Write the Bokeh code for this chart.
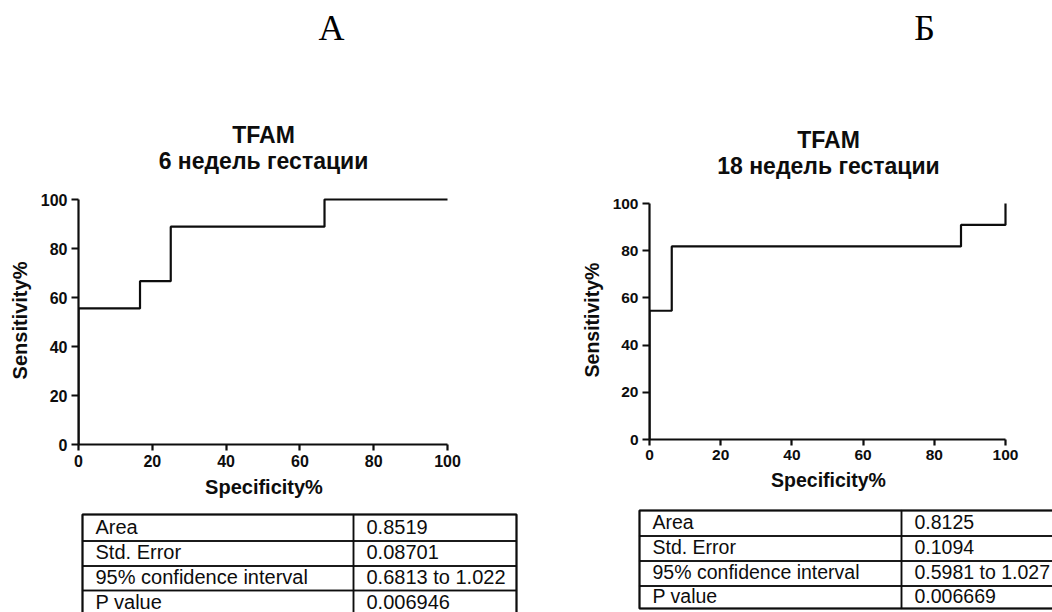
from bokeh.plotting import figure
from bokeh.layouts import row, column
from bokeh.models import Range1d, FixedTicker
from bokeh.core.properties import value
from bokeh.embed import file_html
from bokeh.resources import INLINE

# ---------------- data ----------------
panel_letters = ["А", "Б"]
gene = "TFAM"
subtitles = ["6 недель гестации", "18 недель гестации"]
x_label = "Specificity%"
y_label = "Sensitivity%"
axis_ticks = [0, 20, 40, 60, 80, 100]

spec_6 = [0, 0, 16.67, 16.67, 25.0, 25.0, 66.67, 66.67, 100]
sens_6 = [0, 55.56, 55.56, 66.67, 66.67, 88.89, 88.89, 100, 100]

spec_18 = [0, 0, 6.25, 6.25, 87.5, 87.5, 100, 100]
sens_18 = [0, 54.55, 54.55, 81.82, 81.82, 90.91, 90.91, 100]

stat_names = ["Area", "Std. Error", "95% confidence interval", "P value"]
stats_6 = ["0.8519", "0.08701", "0.6813 to 1.022", "0.006946"]
stats_18 = ["0.8125", "0.1094", "0.5981 to 1.027", "0.006669"]

INK = "#0d0d0d"
SANS = "Liberation Sans"
SERIF = "Liberation Serif"

W, H = 1052, 612
HALF = 526
HEAD_H = 180
CHART_H = 325
TABLE_H = H - HEAD_H - CHART_H


def canvas(x0, x1, y0, y1):
    f = figure(width=x1 - x0, height=y1 - y0,
               x_range=Range1d(x0, x1), y_range=Range1d(y1, y0),
               x_axis_location=None, y_axis_location=None,
               toolbar_location=None, output_backend="svg",
               min_border=0, outline_line_color=None, frame_align=False,
               background_fill_color="white", border_fill_color="white")
    f.grid.visible = False
    return f


def header(x0, x1, letter, letter_x, title_x, tfam_mid, sub_mid, subtitle):
    f = canvas(x0, x1, 0, HEAD_H)
    f.text(x=[letter_x], y=[27], text=[letter], text_font=value(SERIF),
           text_font_size="36px", text_align="center",
           text_baseline="middle", text_color="black")
    f.text(x=[title_x, title_x], y=[tfam_mid, sub_mid], text=[gene, subtitle],
           text_font=value(SANS), text_font_size="23px", text_font_style="bold",
           text_align="center", text_baseline="middle", text_color=INK)
    return f


def roc_chart(spec, sens, b_left, b_right, b_top, b_bottom, pad_x, pad_y,
              tick_size, label_size, y_tick_out, y_std):
    fw = HALF - b_left - b_right
    fh = CHART_H - b_top - b_bottom
    xmax = 100.0 * fw / (fw - pad_x)
    ymax = 100.0 * fh / (fh - pad_y)
    p = figure(width=HALF, height=CHART_H,
               x_range=Range1d(0, xmax), y_range=Range1d(0, ymax),
               min_border_left=b_left, min_border_right=b_right,
               min_border_top=b_top, min_border_bottom=b_bottom,
               toolbar_location=None, output_backend="svg",
               outline_line_color=None, frame_align=False,
               background_fill_color="white", border_fill_color="white")
    p.grid.visible = False
    p.line(spec, sens, line_width=2.2, line_color=INK)
    p.xaxis.axis_label = x_label
    p.yaxis.axis_label = y_label
    for ax in p.axis:
        ax.ticker = FixedTicker(ticks=axis_ticks)
        ax.bounds = (0, 100)
        ax.axis_line_width = 2.2
        ax.axis_line_color = INK
        ax.major_tick_line_width = 2.2
        ax.major_tick_line_color = INK
        ax.major_tick_in = 0
        ax.minor_tick_line_color = None
        ax.major_label_text_font = SANS
        ax.major_label_text_font_style = "bold"
        ax.major_label_text_font_size = tick_size
        ax.major_label_text_color = INK
        ax.axis_label_text_font = SANS
        ax.axis_label_text_font_style = "bold"
        ax.axis_label_text_font_size = label_size
        ax.axis_label_text_color = INK
    p.xaxis.major_tick_out = 6
    p.xaxis.major_label_standoff = 4
    p.xaxis.axis_label_standoff = 6
    p.yaxis.major_tick_out = y_tick_out
    p.yaxis.major_label_standoff = 4
    p.yaxis.axis_label_standoff = y_std
    return p


def table(x0, x1, left, divider, right, bounds, mid_off, names, vals, fsize):
    f = canvas(x0, x1, HEAD_H + CHART_H, H)
    tops = bounds[:-1]
    bots = bounds[1:]
    n = len(names)
    f.quad(left=[left] * n, right=[divider] * n, top=tops, bottom=bots,
           fill_color=None, line_color=INK, line_width=1.5)
    f.quad(left=[divider] * n, right=[right] * n, top=tops, bottom=bots,
           fill_color=None, line_color=INK, line_width=1.5)
    f.quad(left=[left], right=[right], top=[bounds[0]], bottom=[bounds[-1]],
           fill_color=None, line_color=INK, line_width=2)
    ys = [(t + b) / 2.0 + mid_off for t, b in zip(tops, bots)]
    f.text(x=[left + 13] * n, y=ys, text=names, text_font=value(SANS),
           text_font_size=fsize, text_baseline="middle", text_color=INK)
    f.text(x=[divider + 13] * n, y=ys, text=vals, text_font=value(SANS),
           text_font_size=fsize, text_baseline="middle", text_color=INK)
    return f


headA = header(0, HALF, panel_letters[0], 331, 263, 134, 160, subtitles[0])
headB = header(HALF, W, panel_letters[1], 924, 828, 139, 165.5, subtitles[1])

chartA = roc_chart(spec_6, sens_6, b_left=78, b_right=77, b_top=16, b_bottom=61,
                   pad_x=2, pad_y=3, tick_size="16px", label_size="20px",
                   y_tick_out=7, y_std=7)
chartB = roc_chart(spec_18, sens_18, b_left=123, b_right=45, b_top=20, b_bottom=66,
                   pad_x=2, pad_y=3, tick_size="15.5px", label_size="19.5px",
                   y_tick_out=7, y_std=7)

tableA = table(0, HALF, 82, 353, 516, [514, 540.5, 565.5, 590, 615], -1.2,
               stat_names, stats_6, "20px")
tableB = table(HALF, W, 639, 901, 1070, [510, 535.5, 560.5, 585.5, 608], -1.5,
               stat_names, stats_18, "19.5px")

layout = row(column(headA, chartA, tableA), column(headB, chartB, tableB))

open("out.html", "w").write(file_html(layout, INLINE))
